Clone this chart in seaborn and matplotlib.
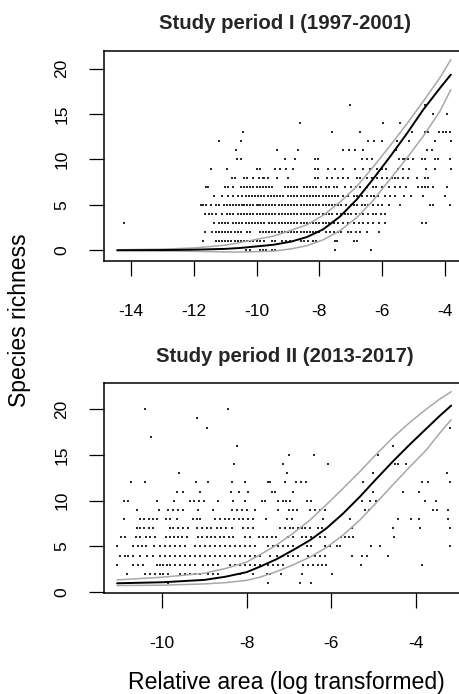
import matplotlib
matplotlib.use("Agg")
import matplotlib.pyplot as plt
import seaborn as sns
import pandas as pd

# ---------------- data: study period I ----------------
p1_rows = {
    0: [-10.35, -10.2, -9.9, -9.8, -9.7, -9.5, -9.4, -7.5, -6.37],
    1: [-11.7, -11.3, -11.2, -11.1, -11.0, -10.9, -10.8, -10.7, -10.6, -10.5, -10.4, -10.3, -10.2, -10.1, -10.0,
        -9.9, -9.75, -9.5, -9.4, -9.2, -9.05, -8.95, -8.6, -8.5, -8.35, -8.2, -8.1, -7.5, -7.45, -6.9, -6.8],
    2: [-11.65, -11.4, -11.3, -11.2, -11.1, -11.0, -10.9, -10.8, -10.7, -10.6, -10.5, -10.3, -10.2, -9.9, -9.8,
        -9.7, -9.6, -9.5, -9.4, -9.3, -9.2, -9.1, -9.0, -8.9, -8.8, -8.7, -8.6, -8.5, -8.4, -8.3, -8.2, -8.1,
        -8.0, -7.8, -7.65, -7.55, -7.4, -7.3, -7.1, -7.0, -6.85, -6.7, -6.5, -6.1],
    3: [-14.2, -11.35, -11.2, -11.1, -11.0, -10.9, -10.75, -10.65, -10.55, -10.45, -10.35, -10.25, -10.15, -10.05,
        -9.95, -9.85, -9.75, -9.6, -9.5, -9.4, -9.3, -9.2, -9.1, -9.0, -8.9, -8.8, -8.7, -8.6, -8.5, -8.4, -8.3,
        -8.2, -8.1, -8.0, -7.9, -7.8, -7.7, -7.55, -7.4, -7.25, -7.1, -6.9, -6.75, -6.6, -6.45, -6.3, -6.1, -5.9,
        -4.75, -4.6],
    4: [-11.65, -11.5, -11.4, -11.3, -11.1, -10.95, -10.85, -10.75, -10.6, -10.5, -10.4, -10.3, -10.2, -10.1,
        -10.0, -9.9, -9.8, -9.7, -9.6, -9.5, -9.4, -9.3, -9.2, -9.1, -9.0, -8.9, -8.8, -8.7, -8.6, -8.5, -8.4,
        -8.3, -8.2, -8.1, -8.0, -7.9, -7.8, -7.7, -7.6, -7.45, -7.3, -7.2, -7.1, -7.0, -6.85, -6.7, -6.6, -6.45,
        -6.3, -6.2, -6.05, -5.9],
    5: [-11.75, -11.7, -11.6, -11.45, -11.3, -11.2, -11.05, -10.95, -10.85, -10.75, -10.65, -10.55, -10.45, -10.4,
        -10.3, -10.2, -10.1, -10.0, -9.95, -9.9, -9.8, -9.7, -9.6, -9.5, -9.4, -9.3, -9.2, -9.1, -9.0, -8.9,
        -8.8, -8.7, -8.6, -8.5, -8.4, -8.3, -8.2, -8.1, -8.0, -7.9, -7.8, -7.7, -7.6, -7.5, -7.4, -7.3, -7.15,
        -7.0, -6.9, -6.8, -6.65, -6.55, -6.45, -6.3, -6.15, -6.0, -5.8, -5.45, -4.48, -4.38, -3.85],
    6: [-11.35, -11.1, -10.9, -10.75, -10.6, -10.45, -10.35, -10.25, -10.15, -10.05, -9.95, -9.85, -9.75, -9.65,
        -9.55, -9.45, -9.35, -9.25, -9.15, -9.0, -8.9, -8.8, -8.7, -8.6, -8.5, -8.4, -8.3, -8.2, -8.1, -8.0,
        -7.9, -7.8, -7.7, -7.6, -7.5, -7.4, -7.25, -7.1, -6.9, -6.8, -6.65, -6.5, -6.35, -6.25, -6.15, -5.9,
        -5.75, -5.6, -5.3, -5.1, -4.7, -4.0],
    7: [-11.6, -11.55, -11.0, -10.9, -10.75, -10.5, -10.4, -10.3, -10.2, -10.1, -10.0, -9.9, -9.8, -9.7, -9.6,
        -9.5, -9.1, -9.0, -8.9, -8.8, -8.7, -8.5, -8.4, -8.3, -8.2, -8.1, -7.95, -7.8, -7.7, -7.55, -7.45, -7.2,
        -7.0, -6.85, -6.7, -6.5, -6.3, -6.2, -6.0, -5.8, -5.6, -5.45, -5.25, -4.85, -4.75, -4.65, -4.55, -4.4,
        -3.95],
    8: [-10.79, -10.68, -10.4, -10.31, -10.12, -9.91, -9.8, -9.76, -9.62, -9.36, -8.99, -8.14, -8.03, -7.77, -7.61,
        -7.4, -7.24, -7.08, -6.81, -6.71, -6.5, -6.34, -6.18, -6.02, -5.86, -5.7, -5.59, -5.49, -5.33, -5.17,
        -4.9, -4.64, -4.54],
    9: [-11.45, -10.95, -9.99, -9.89, -9.41, -9.25, -9.07, -8.83, -8.14, -8.03, -7.72, -7.5, -7.26, -6.87, -6.6,
        -6.39, -6.18, -6.02, -5.88, -5.49, -5.33, -5.14, -4.61, -4.32, -3.82],
    10: [-10.63, -10.5, -9.09, -8.77, -8.14, -8.03, -6.66, -6.5, -6.34, -5.46, -5.35, -5.28, -5.17, -5.01, -4.75,
         -4.64, -4.32, -4.22, -3.85],
    11: [-10.65, -9.34, -8.67, -7.24, -7.05, -6.86, -6.6, -5.56, -4.59, -4.43],
    12: [-11.18, -10.5, -6.46, -6.26, -6.02, -5.54, -5.14, -4.32, -3.83],
    13: [-10.42, -7.61, -6.71, -5.07, -4.64, -4.56, -4.19, -4.08, -3.97, -3.85],
    14: [-8.62, -5.99, -5.44],
    15: [-4.38, -3.95],
    16: [-7.03, -4.64],
}

p1_curve_x = [-14.43, -13.0, -12.0, -11.0, -10.52, -9.47, -8.9, -8.4, -7.88, -7.35, -6.81, -6.29, -5.76,
              -5.22, -4.7, -4.17, -3.82]
p1_fit = [0.0, 0.02, 0.06, 0.15, 0.25, 0.6, 0.95, 1.45, 2.3, 3.7, 5.6, 7.86, 10.28, 12.85, 15.48, 17.85, 19.35]
p1_upper = [0.05, 0.12, 0.25, 0.55, 0.85, 1.55, 2.2, 2.8, 3.85, 5.3, 7.03, 9.19, 11.48, 13.92, 16.4, 19.0, 21.0]
p1_lower = [-0.03, -0.08, -0.12, -0.18, -0.2, -0.1, 0.15, 0.5, 1.15, 2.15, 3.6, 5.5, 7.8, 10.15, 12.55, 15.3,
            17.7]

# ---------------- data: study period II ----------------
p2_rows = {
    1: [-10.8, -10.73, -9.86, -7.49, -6.74, -6.47],
    2: [-10.84, -10.41, -10.29, -10.17, -10.06, -9.98, -9.86, -9.58, -9.46, -9.35, -9.23, -9.11, -8.91, -8.79,
        -8.67, -8.16, -7.85, -7.53, -7.45, -7.18, -6.7, -5.99],
    3: [-11.07, -10.69, -10.58, -10.45, -10.13, -10.06, -9.98, -9.9, -9.82, -9.7, -9.58, -9.46, -9.35, -9.23,
        -9.03, -8.91, -8.79, -8.67, -8.4, -8.28, -8.16, -8.04, -7.93, -7.81, -7.69, -7.49, -7.37, -7.25, -7.14,
        -6.68, -6.54, -6.43, -6.31, -6.23, -6.13, -5.3, -3.84],
    4: [-11.0, -10.88, -10.8, -10.69, -10.53, -10.37, -10.21, -10.06, -9.94, -9.82, -9.7, -9.58, -9.46, -9.35,
        -9.23, -9.11, -8.99, -8.87, -8.75, -8.64, -8.52, -8.4, -8.28, -8.16, -8.04, -7.93, -7.81, -7.69, -7.45,
        -7.29, -7.14, -7.02, -6.9, -6.78, -6.54, -6.39, -6.27, -6.15, -5.52, -5.28, -5.16, -4.65],
    5: [-11.07, -10.69, -10.58, -10.49, -10.39, -10.2, -10.06, -9.94, -9.82, -9.7, -9.58, -9.46, -9.23, -9.11,
        -8.99, -8.87, -8.75, -8.64, -8.52, -8.4, -8.28, -8.16, -8.04, -7.93, -7.81, -7.49, -7.37, -7.25, -7.14,
        -7.02, -6.9, -6.58, -6.47, -6.15, -6.03, -5.87, -5.79, -5.05, -4.85, -3.19],
    6: [-10.98, -10.88, -10.62, -10.53, -10.39, -10.28, -10.17, -9.92, -9.82, -9.72, -9.62, -9.53, -9.42, -9.15,
        -9.05, -8.95, -8.85, -8.75, -8.64, -8.53, -8.43, -8.32, -8.04, -7.93, -7.7, -7.61, -7.51, -7.41, -7.31,
        -7.02, -6.9, -6.7, -6.6, -6.49, -6.27, -6.15, -5.78, -5.68, -5.57, -5.48, -4.51],
    7: [-10.61, -10.53, -10.43, -10.31, -10.21, -9.82, -9.74, -9.62, -9.5, -9.38, -9.19, -9.07, -8.95, -8.84,
        -8.71, -8.6, -8.48, -8.36, -8.08, -7.96, -7.85, -7.21, -7.1, -6.98, -6.9, -6.78, -6.7, -6.62, -6.5,
        -6.31, -6.23, -5.52, -4.53, -3.9, -3.18],
    8: [-10.91, -10.53, -10.43, -10.32, -10.23, -10.13, -9.91, -9.82, -9.66, -9.28, -9.19, -9.11, -8.75, -8.64,
        -8.52, -8.41, -8.3, -8.19, -8.08, -7.97, -7.86, -7.55, -7.04, -6.94, -6.19, -5.56, -4.41, -4.12, -3.92,
        -3.23],
    9: [-10.61, -10.07, -9.87, -9.74, -9.62, -9.5, -9.15, -8.79, -8.34, -8.24, -8.12, -8.0, -7.81, -7.25, -6.99,
        -6.9, -6.8, -6.5, -6.39, -6.27, -6.15, -5.19, -5.11, -3.6, -3.49, -3.23],
    10: [-10.91, -10.8, -10.13, -9.72, -9.35, -9.25, -9.13, -9.01, -8.69, -8.32, -8.04, -7.65, -7.57, -7.25,
         -7.14, -7.06, -6.98, -6.58, -6.47, -5.28, -5.08, -4.93, -3.78, -3.52],
    11: [-9.66, -9.52, -9.11, -8.38, -8.19, -7.96, -7.41, -7.33, -6.9, -5.0, -4.3, -3.92],
    12: [-10.73, -10.4, -9.2, -8.91, -8.34, -8.05, -7.49, -7.45, -7.1, -6.84, -6.72, -6.6, -5.24, -3.84, -3.7,
         -3.2],
    13: [-9.61, -7.04, -5.02, -3.25],
    14: [-8.31, -7.14, -6.07, -4.49, -4.41, -4.22],
    15: [-7.0, -6.4, -4.9],
    16: [-8.22, -4.53],
    17: [-10.27],
    18: [-8.94, -3.2],
    19: [-9.18],
    20: [-10.4, -8.45],
}

p2_curve_x = [-11.07, -10.0, -9.0, -8.5, -8.0, -7.685, -7.3, -6.9, -6.5, -6.11, -5.72, -5.32, -4.93, -4.53,
              -4.13, -3.74, -3.45, -3.16]
p2_fit = [0.98, 1.09, 1.35, 1.7, 2.2, 2.8, 3.6, 4.62, 5.7, 7.0, 8.6, 10.45, 12.4, 14.35, 16.2, 17.92, 19.2,
          20.4]
p2_upper = [1.35, 1.64, 2.08, 2.6, 3.3, 4.1, 5.15, 6.45, 7.9, 9.6, 11.35, 13.2, 15.1, 16.95, 18.6, 20.05,
            21.05, 21.92]
p2_lower = [0.73, 0.77, 0.91, 1.05, 1.3, 1.65, 2.25, 3.0, 3.85, 4.9, 6.25, 7.9, 9.8, 11.8, 13.75, 15.6, 17.3,
            18.85]

titles = ["Study period I (1997-2001)", "Study period II (2013-2017)"]
x_ticks = [[-14, -12, -10, -8, -6, -4], [-10, -8, -6, -4]]
y_ticks = [0, 5, 10, 15, 20]
x_label = "Relative area (log transformed)"
y_label = "Species richness"


def rows_to_df(rows):
    xs, ys = [], []
    for yv, xl in rows.items():
        xs.extend(xl)
        ys.extend([yv] * len(xl))
    return pd.DataFrame({"x": xs, "y": ys})


sns.set_theme(style="white")
plt.rcParams["font.family"] = ["Liberation Sans", "DejaVu Sans"]

W, H = 459, 694
fig = plt.figure(figsize=(W / 100, H / 100), dpi=100)


def px_axes(left, top, right, bottom):
    return fig.add_axes([left / W, 1 - bottom / H, (right - left) / W, (bottom - top) / H])


ax1 = px_axes(104, 51, 466, 260.5)
ax2 = px_axes(104, 382.7, 466, 592.7)

panels = [
    (ax1, p1_rows, p1_curve_x, p1_fit, p1_upper, p1_lower, (-14.85, -3.339), (-1.13, 21.95)),
    (ax2, p2_rows, p2_curve_x, p2_fit, p2_upper, p2_lower, (-11.38, -2.81), (-0.05, 22.9)),
]

for i, (ax, rows, cx, fit, up, lo, xl, yl) in enumerate(panels):
    df = rows_to_df(rows)
    sns.scatterplot(data=df, x="x", y="y", ax=ax, marker="s", s=0.8, color="#2a2a2a",
                    linewidth=0, legend=False, zorder=2)
    cdf = pd.DataFrame({"x": cx, "fit": fit, "up": up, "lo": lo})
    sns.lineplot(data=cdf, x="x", y="up", ax=ax, color="#a8a8a8", lw=1.1, sort=False, zorder=3)
    sns.lineplot(data=cdf, x="x", y="lo", ax=ax, color="#a8a8a8", lw=1.1, sort=False, zorder=3)
    sns.lineplot(data=cdf, x="x", y="fit", ax=ax, color="black", lw=1.4, sort=False, zorder=4)
    ax.set_xlim(*xl)
    ax.set_ylim(*yl)
    ax.set_xticks(x_ticks[i])
    ax.set_xticklabels([str(t) for t in x_ticks[i]])
    ax.set_yticks(y_ticks)
    ax.set_yticklabels([str(t) for t in y_ticks], rotation=90, va="center")
    ax.set_xlabel("")
    ax.set_ylabel("")
    for sp in ax.spines.values():
        sp.set_visible(True)
        sp.set_color("black")
        sp.set_linewidth(1.1)
    ax.tick_params(axis="x", direction="out", length=11, width=0.9, pad=20, labelsize=12.5,
                   colors="black", bottom=True)
    ax.tick_params(axis="y", direction="out", length=11, width=0.9, pad=14, labelsize=12.5,
                   colors="black", left=True)
    ax.set_facecolor("white")

ax1.set_title(titles[0], fontsize=14.7, fontweight="bold", pad=0, y=1 + (51 - 29) / 209.5)
ax2.set_title(titles[1], fontsize=14.7, fontweight="bold", pad=0, y=1 + (382.7 - 362) / 210.0)

fig.text(286 / W, 1 - 683 / H, x_label, ha="center", va="center", fontsize=16.6, color="black")
fig.text(20 / W, 1 - 320 / H, y_label, ha="center", va="center", rotation=90, fontsize=16.6, color="black")

fig.savefig("out.png", dpi=100, facecolor="white")
